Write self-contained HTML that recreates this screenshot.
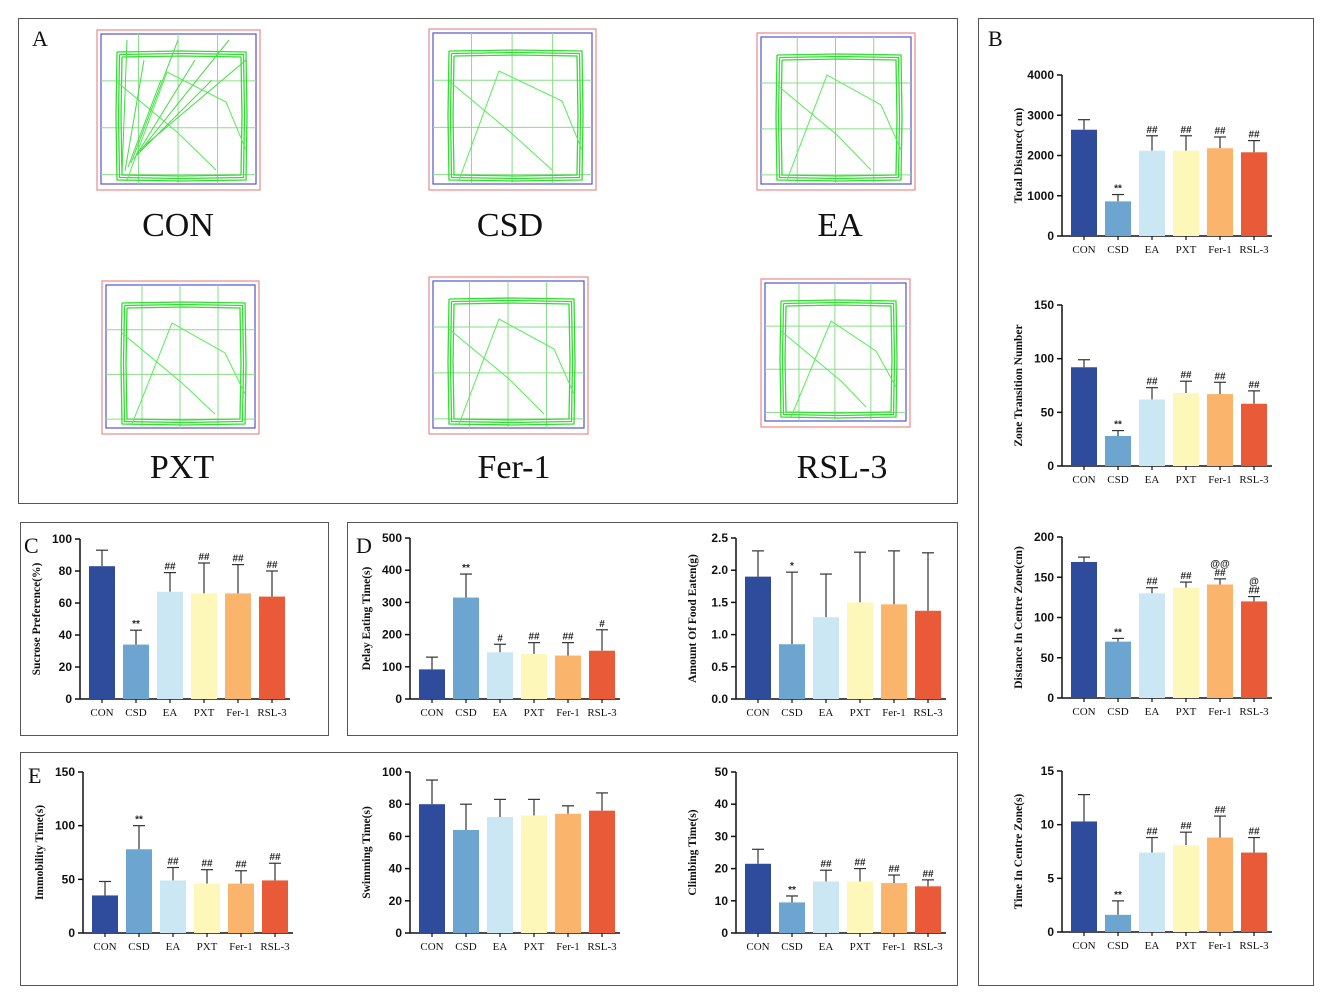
<!DOCTYPE html>
<html><head><meta charset="utf-8"><style>
body{margin:0;background:#fff;}
svg{display:block;}
.tk{font:bold 12px "Liberation Sans",sans-serif;fill:#111;}
.cat{font:11px "Liberation Serif",serif;fill:#111;}
.yt{font:bold 11.5px "Liberation Serif",serif;fill:#111;}
.sig{font:bold 10px "Liberation Sans",sans-serif;fill:#222;}
.pl{font:22px "Liberation Serif",serif;fill:#111;}
.al{font:34px "Liberation Serif",serif;fill:#111;}
</style></head><body>
<svg id="fig" width="1325" height="1001" viewBox="0 0 1325 1001">
<rect x="18.5" y="18.5" width="939" height="485" fill="none" stroke="#555"/>
<rect x="978.5" y="18.5" width="335" height="967" fill="none" stroke="#555"/>
<rect x="20.5" y="522.5" width="308" height="213" fill="none" stroke="#555"/>
<rect x="347.5" y="522.5" width="610" height="213" fill="none" stroke="#555"/>
<rect x="20.5" y="752.5" width="937" height="233" fill="none" stroke="#555"/>
<text class="pl" x="32" y="46">A</text>
<text class="pl" x="988" y="46">B</text>
<text class="pl" x="24" y="553">C</text>
<text class="pl" x="356" y="553">D</text>
<text class="pl" x="28" y="783">E</text>
<g id="arenas"></g>
<g id="charts"></g>
</svg>
<script>
const groups = ["CON","CSD","EA","PXT","Fer-1","RSL-3"];
const colors = ["#2f4b9c","#6ba5d0","#cbe7f3","#fdf7ba","#fbb46c","#e95b38"];

const b1Vals = [2640,860,2120,2120,2180,2080];
const b1Err = [250,170,370,370,280,290];
const b1Sig = ["","**","##","##","##","##"];
const b2Vals = [92,28,62,68,67,58];
const b2Err = [7,5,11,11,11,12];
const b2Sig = ["","**","##","##","##","##"];
const b3Vals = [169,70,130,137,141,120];
const b3Err = [6,4,7,7,7,6];
const b3Sig = ["","**","##","##","@@|##","@|##"];
const b4Vals = [10.3,1.6,7.4,8.1,8.8,7.4];
const b4Err = [2.5,1.3,1.4,1.2,2.0,1.4];
const b4Sig = ["","**","##","##","##","##"];
const cVals = [83,34,67,66,66,64];
const cErr = [10,9,12,19,18,16];
const cSig = ["","**","##","##","##","##"];
const d1Vals = [92,315,145,140,135,150];
const d1Err = [38,73,25,35,40,65];
const d1Sig = ["","**","#","##","##","#"];
const d2Vals = [1.9,0.85,1.27,1.5,1.47,1.37];
const d2Err = [0.4,1.12,0.67,0.78,0.83,0.9];
const d2Sig = ["","*","","","",""];
const e1Vals = [35,78,49,46,46,49];
const e1Err = [13,22,12,13,12,16];
const e1Sig = ["","**","##","##","##","##"];
const e2Vals = [80,64,72,73,74,76];
const e2Err = [15,16,11,10,5,11];
const e2Sig = ["","","","","",""];
const e3Vals = [21.5,9.5,16,16,15.5,14.5];
const e3Err = [4.5,2,3.5,4,2.5,2];
const e3Sig = ["","**","##","##","##","##"];

const NS="http://www.w3.org/2000/svg";
function mk(tag, attrs, parent){const e=document.createElementNS(NS,tag);for(const k in attrs)e.setAttribute(k,attrs[k]);parent.appendChild(e);return e;}

function chart(cfg){
  const root=document.getElementById('charts');
  const g=mk('g',{},root);
  
  
  const {ax,top,base,ymax,step,dec}=cfg;
  const y=v=>base-(v/ymax)*(base-top);
  const x=i=>ax+22+i*34;
  // axes
  const yl=mk('line',{x1:ax,y1:top,x2:ax,y2:base,stroke:'#111','stroke-width':1.5},g);
  
  
  const xl=mk('line',{x1:ax,y1:base,x2:ax+210,y2:base,stroke:'#111','stroke-width':1.5},g);
  
  
  for(let v=0;v<=ymax+1e-9;v+=step){
    mk('line',{x1:ax-5,y1:y(v),x2:ax,y2:y(v),stroke:'#111','stroke-width':1.5},g);
    const t=mk('text',{class:'tk',x:ax-8,y:y(v)+4,'text-anchor':'end'},g);
    t.textContent=v.toFixed(dec);
    
    
  }
  const tt=mk('text',{class:'yt',x:0,y:0,'text-anchor':'middle',transform:`translate(${ax-40},${(top+base)/2}) rotate(-90)`},g);
  tt.textContent=cfg.title;
  
  
  cfg.vals.forEach((v,i)=>{
    const cx=x(i), e=cfg.err[i];
    mk('line',{x1:cx,y1:y(v),x2:cx,y2:y(v+e),stroke:'#333','stroke-width':1.2},g);
    mk('line',{x1:cx-6,y1:y(v+e),x2:cx+6,y2:y(v+e),stroke:'#333','stroke-width':1.2},g);
    const r=mk('rect',{x:cx-13,y:y(v),width:26,height:base-y(v),fill:colors[i]},g);
    
    
    mk('line',{x1:cx,y1:base,x2:cx,y2:base+4,stroke:'#111','stroke-width':1.2},g);
    const c=mk('text',{class:'cat',x:cx,y:base+17,'text-anchor':'middle'},g);
    c.textContent=groups[i];
    
    
    const s=cfg.sig[i];
    if(s){
      const parts=s.split('|');
      parts.forEach((p,k)=>{
        const st=mk('text',{class:'sig',x:cx,y:y(v+e)-3-(parts.length-1-k)*9,'text-anchor':'middle'},g);
        st.textContent=p;
        
        
      });
    }
  });
}
chart({name:'total-distance-chart',ax:1062,top:75,base:236,ymax:4000,step:1000,dec:0,title:'Total Distance( cm)',vals:b1Vals,err:b1Err,sig:b1Sig});
chart({name:'zone-transition-chart',ax:1062,top:305,base:466,ymax:150,step:50,dec:0,title:'Zone Transition Number',vals:b2Vals,err:b2Err,sig:b2Sig});
chart({name:'distance-centre-chart',ax:1062,top:537,base:698,ymax:200,step:50,dec:0,title:'Distance In Centre Zone(cm)',vals:b3Vals,err:b3Err,sig:b3Sig});
chart({name:'time-centre-chart',ax:1062,top:771,base:932,ymax:15,step:5,dec:0,title:'Time In Centre Zone(s)',vals:b4Vals,err:b4Err,sig:b4Sig});
chart({name:'sucrose-preference-chart',ax:80,top:539,base:699,ymax:100,step:20,dec:0,title:'Sucrose Preference(%)',vals:cVals,err:cErr,sig:cSig});
chart({name:'delay-eating-chart',ax:410,top:538,base:699,ymax:500,step:100,dec:0,title:'Delay Eating Time(s)',vals:d1Vals,err:d1Err,sig:d1Sig});
chart({name:'food-eaten-chart',ax:736,top:538,base:699,ymax:2.5,step:0.5,dec:1,title:'Amount Of Food Eaten(g)',vals:d2Vals,err:d2Err,sig:d2Sig});
chart({name:'immobility-chart',ax:83,top:772,base:933,ymax:150,step:50,dec:0,title:'Immobility Time(s)',vals:e1Vals,err:e1Err,sig:e1Sig});
chart({name:'swimming-chart',ax:410,top:772,base:933,ymax:100,step:20,dec:0,title:'Swimming Time(s)',vals:e2Vals,err:e2Err,sig:e2Sig});
chart({name:'climbing-chart',ax:736,top:772,base:933,ymax:50,step:10,dec:0,title:'Climbing Time(s)',vals:e3Vals,err:e3Err,sig:e3Sig});

// open-field arenas (decorative track illustrations)
const arenaBoxes=[[97,30,163,160,178,225],[429,29,167,161,510,225],[757,33,158,157,840,225],[102,281,157,153,182,467],[429,277,159,157,514,467],[761,279,149,148,842,467]];
const ag=document.getElementById('arenas');
arenaBoxes.forEach((b,i)=>{
  const [x,y,w,h,lx,ly]=b;
  const g=mk('g',{},ag);
  
  
  mk('rect',{x:x,y:y,width:w,height:h,fill:'none',stroke:'#e88','stroke-width':1.2},g);
  mk('rect',{x:x+4,y:y+4,width:w-8,height:h-10,fill:'none',stroke:'#55c','stroke-width':1.2},g);
  for(let k=1;k<4;k++){
    mk('line',{x1:x+4+k*(w-8)/4*1.02-2,y1:y+4,x2:x+4+k*(w-8)/4*1.02-2,y2:y+h-6,stroke:'#8d8','stroke-width':1},g);
    mk('line',{x1:x+4,y1:y+4+k*(h-10)/3.2,x2:x+w-4,y2:y+4+k*(h-10)/3.2,stroke:'#8d8','stroke-width':1},g);
  }
  const i0=x+20,j0=y+22,i1=x+w-14,j1=y+h-10;
  for(let r=0;r<3;r++){
    const o=r*2.5;
    mk('polyline',{points:`${i0+o},${j0+o} ${(i0+i1)/2},${j0-1+o} ${i1-o},${j0+o} ${i1-o+1},${(j0+j1)/2} ${i1-o},${j1-o} ${(i0+i1)/2},${j1-o+1} ${i0+o},${j1-o} ${i0+o-1},${(j0+j1)/2} ${i0+o},${j0+o}`,fill:'none',stroke:'#3d3','stroke-width':1.3},g);
  }
  mk('polyline',{points:`${i0},${j0+30} ${i0+60},${j0+80} ${i1-30},${j1-10} M`.replace(' M',''),fill:'none',stroke:'#5e5','stroke-width':1},g);
  mk('polyline',{points:`${i0+10},${j1} ${i0+50},${j0+20} ${i1-20},${j0+50} ${i1},${j1-30}`,fill:'none',stroke:'#5e5','stroke-width':1},g);
  if(i===0){
    for(let k=0;k<8;k++){
      mk('line',{x1:i0+5+k*3,y1:j1-5-k*4,x2:x+30+k*17,y2:y+10+(k%3)*20,stroke:'#4d4','stroke-width':1},g);
    }
  }
  const t=mk('text',{class:'al',x:lx,y:ly+11,'text-anchor':'middle'},g);
  t.textContent=groups[i];
  
  
});
</script>
</body></html>
